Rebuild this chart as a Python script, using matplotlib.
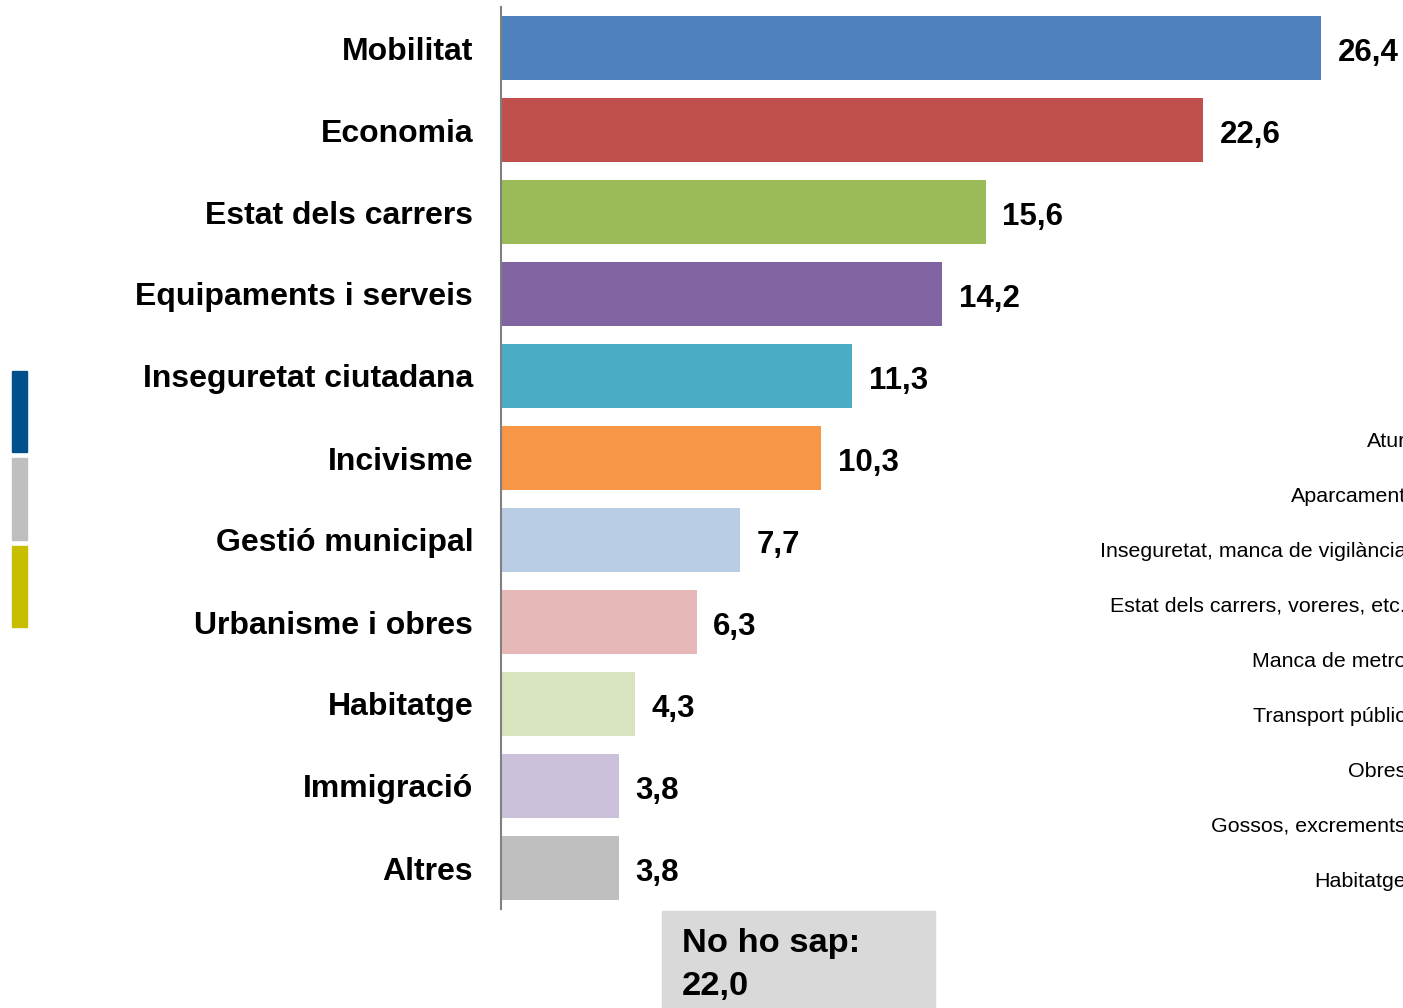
import matplotlib
matplotlib.use("Agg")
import matplotlib.pyplot as plt
from matplotlib.patches import Rectangle

plt.rcParams['font.family'] = ['Liberation Sans', 'DejaVu Sans']

categories = ['Mobilitat', 'Economia', 'Estat dels carrers', 'Equipaments i serveis',
              'Inseguretat ciutadana', 'Incivisme', 'Gestió municipal',
              'Urbanisme i obres', 'Habitatge', 'Immigració', 'Altres']
values = [26.4, 22.6, 15.6, 14.2, 11.3, 10.3, 7.7, 6.3, 4.3, 3.8, 3.8]
colors = ['#4F81BD', '#C0504D', '#9BBB59', '#8064A2', '#4BACC6', '#F79646',
          '#B9CDE5', '#E6B9B8', '#D7E4BD', '#CCC1DA', '#BFBFBF']
no_ho_sap = 22.0
# leftover labels from a neighbouring chart, cut off at the right edge
side_labels = ['Atur', 'Aparcament', 'Inseguretat, manca de vigilància',
               'Estat dels carrers, voreres, etc.', 'Manca de metro',
               'Transport públic', 'Obres', 'Gossos, excrements', 'Habitatge']
side_colors = ['#00508C', '#BFBFBF', '#C8BE00']

def fmt(v):
    return ('%.1f' % v).replace('.', ',')

fig = plt.figure(figsize=(14.03, 10.08), dpi=100)
ax = fig.add_axes([501/1403, 99/1008, 902/1403, 902/1008])

pos = list(range(len(categories)))
ax.barh(pos, values, height=0.77, color=colors)
ax.set_ylim(len(categories) - 0.5, -0.5)
ax.set_xlim(0, 29.04)
ax.set_yticks(pos)
ax.set_yticklabels(categories, fontsize=23, fontweight='bold')
ax.tick_params(axis='y', length=0, pad=20)
ax.set_xticks([])
for s in ['top', 'right', 'bottom']:
    ax.spines[s].set_visible(False)
ax.spines['left'].set_color('#808080')
ax.spines['left'].set_linewidth(1.5)

for p, v in zip(pos, values):
    ax.annotate(fmt(v), (v, p), xytext=(12, -3.5), textcoords='offset points',
                va='center', ha='left', fontsize=22.5, fontweight='bold')

# side labels (regular, clipped at right edge)
for i, lab in enumerate(side_labels):
    y = 441.5 + 55 * i
    fig.text(1406/1403, 1 - y/1008, lab, ha='right', va='center', fontsize=15.4)

# small coloured blocks on the left
for i, c in enumerate(side_colors):
    top = 371 + 87.5 * i
    fig.add_artist(Rectangle((12/1403, 1 - (top + 81)/1008), 15/1403, 81/1008,
                             transform=fig.transFigure, color=c))

# "No ho sap" box
fig.add_artist(Rectangle((662/1403, 0), 273/1403, 97/1008,
                         transform=fig.transFigure, color='#D9D9D9'))
fig.text(682/1403, 1 - 965/1008, 'No ho sap:\n' + fmt(no_ho_sap), ha='left',
         va='center', fontsize=24.8, fontweight='bold', linespacing=1.5)

fig.savefig('out.png', dpi=100)
